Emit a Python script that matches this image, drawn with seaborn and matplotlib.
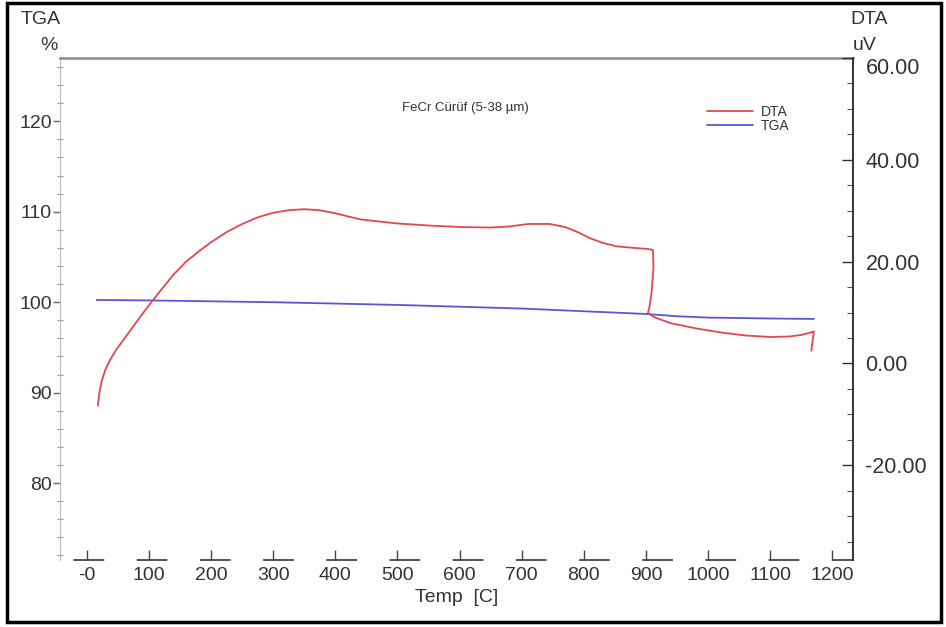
import matplotlib
matplotlib.use("Agg")
import matplotlib.pyplot as plt
import seaborn as sns
import pandas as pd
from matplotlib.patches import Rectangle
from matplotlib.ticker import MultipleLocator, FixedLocator
from matplotlib import font_manager

# ---------------- data ----------------
tga_temp = [16, 100, 200, 300, 400, 500, 600, 700, 800, 900, 950, 1000, 1100, 1170]
tga_pct = [100.25, 100.2, 100.1, 100.0, 99.85, 99.7, 99.5, 99.3, 99.0, 98.7, 98.45, 98.3, 98.2, 98.15]

dta_temp = [18, 20, 24, 30, 38, 48, 60, 75, 90, 105, 120, 140, 160, 180, 200, 225, 250,
            275, 300, 325, 350, 375, 400, 440, 500, 550, 600, 650, 680, 710, 745, 770,
            790, 810, 830, 853, 880, 902, 911, 912, 909, 905, 903, 915, 940, 980, 1020,
            1060, 1100, 1130, 1150, 1165, 1170, 1168, 1166]
dta_uv = [-8.3, -6.0, -3.5, -1.2, 0.8, 2.8, 4.8, 7.3, 9.8, 12.2, 14.5, 17.5, 20.0, 22.0,
          23.8, 25.8, 27.4, 28.7, 29.6, 30.1, 30.3, 30.1, 29.5, 28.3, 27.5, 27.1, 26.8,
          26.7, 26.9, 27.4, 27.4, 26.8, 25.8, 24.6, 23.7, 23.0, 22.7, 22.5, 22.3, 19.0,
          14.0, 10.8, 9.9, 9.0, 7.9, 6.9, 6.1, 5.5, 5.2, 5.3, 5.6, 6.1, 6.3, 4.5, 2.5]

x_ticks = [0, 100, 200, 300, 400, 500, 600, 700, 800, 900, 1000, 1100, 1200]
x_tick_labels = ["-0", "100", "200", "300", "400", "500", "600", "700", "800",
                 "900", "1000", "1100", "1200"]
left_ticks = [80, 90, 100, 110, 120]
left_tick_labels = ["80", "90", "100", "110", "120"]
right_ticks = [-20, 0, 20, 40, 60]
right_tick_labels = ["-20.00", "0.00", "20.00", "40.00", "60.00"]

title_text = "FeCr Cürüf (5-38 µm)"
series_names = ["DTA", "TGA"]

# ---------------- style ----------------
sns.set_style("white")
names = {f.name for f in font_manager.fontManager.ttflist}
base = "Liberation Sans" if "Liberation Sans" in names else "DejaVu Sans"
narrow = "Liberation Sans Narrow" if "Liberation Sans Narrow" in names else base
plt.rcParams["font.family"] = [base, "DejaVu Sans"]

red = "#e2474f"
blue = "#5858d4"
txt = "#333333"

W, H = 946, 627
fig = plt.figure(figsize=(W / 100, H / 100), dpi=100)
fig.patch.set_facecolor("white")
L, R, T, B = 60, 853, 58, 560
ax = fig.add_axes([L / W, 1 - B / H, (R - L) / W, (B - T) / H])
ax2 = ax.twinx()

tga_df = pd.DataFrame({"Temp": tga_temp, "TGA": tga_pct})
dta_df = pd.DataFrame({"Temp": dta_temp, "DTA": dta_uv})

sns.lineplot(data=tga_df, x="Temp", y="TGA", ax=ax, color=blue, linewidth=1.3,
             sort=False, estimator=None, legend=False)
sns.lineplot(data=dta_df, x="Temp", y="DTA", ax=ax2, color=red, linewidth=1.3,
             sort=False, estimator=None, legend=False)

ax.set_xlim(-43, 1233)
ax.set_ylim(71.5, 127)
ax2.set_ylim(-38.6, 60)
ax.set_xlabel("")
ax.set_ylabel("")
ax2.set_ylabel("")

# x axis
ax.xaxis.set_major_locator(FixedLocator(x_ticks))
ax.set_xticklabels(x_tick_labels, family=[narrow, "DejaVu Sans"], fontsize=14, color=txt)
ax.tick_params(axis="x", direction="in", length=7, width=1, color="#444444", pad=5,
               bottom=True)

# left axis
ax.yaxis.set_major_locator(FixedLocator(left_ticks))
ax.set_yticklabels(left_tick_labels, fontsize=14, color=txt)
ax.yaxis.set_minor_locator(MultipleLocator(2))
ax.tick_params(axis="y", which="major", direction="out", length=5, width=1,
               color="#666666", pad=1, left=True)
ax.tick_params(axis="y", which="minor", direction="inout", length=4, width=0.8,
               color="#999999", left=True)

# right axis
ax2.yaxis.set_major_locator(FixedLocator(right_ticks))
ax2.set_yticklabels(right_tick_labels, fontsize=15.5, color=txt)
ax2.yaxis.set_minor_locator(MultipleLocator(5))
ax2.tick_params(axis="y", which="major", direction="in", length=8, width=1,
                color="#333333", pad=9, right=True)
ax2.tick_params(axis="y", which="minor", direction="in", length=4, width=0.8,
                color="#555555", right=True)
for lab in ax2.get_yticklabels():
    if lab.get_text() == "60.00":
        lab.set_va("top")

# spines
for s in ["left", "top", "right", "bottom"]:
    ax2.spines[s].set_visible(False)
ax2.spines["right"].set_visible(True)
ax2.spines["right"].set_color("#333333")
ax2.spines["right"].set_linewidth(1.4)
ax.spines["right"].set_visible(False)
ax.spines["top"].set_color("#8a8a8a")
ax.spines["top"].set_linewidth(1.8)
ax.spines["left"].set_color("#bbbbbb")
ax.spines["left"].set_linewidth(0.8)
ax.spines["bottom"].set_color("#444444")
ax.spines["bottom"].set_linewidth(1.3)
ax.spines["bottom"].set_linestyle((-8, (16, 19)))

# title & legend
ax2.text(0.511, 0.9, title_text, transform=ax2.transAxes, ha="center", va="center",
         fontsize=9.5, color=txt)
handles = [ax2.get_lines()[0], ax.get_lines()[0]]
leg = ax2.legend(handles, series_names, loc="upper left",
                 bbox_to_anchor=((707 - L) / (R - L), (B - 105) / (B - T)),
                 frameon=False, fontsize=10, handlelength=3.3, handletextpad=0.6,
                 labelspacing=0.0, borderpad=0, borderaxespad=0)
for t in leg.get_texts():
    t.set_color(txt)

# axis titles
fig.text(41 / W, 1 - 19 / H, "TGA", ha="center", va="center", fontsize=14, color=txt)
fig.text(49 / W, 1 - 45 / H, "%", ha="center", va="center", fontsize=14, color=txt)
fig.text(850 / W, 1 - 19 / H, "DTA", ha="left", va="center", fontsize=14, color=txt)
fig.text(853 / W, 1 - 45 / H, "uV", ha="left", va="center", fontsize=14, color=txt)
fig.text(457 / W, 1 - 598 / H, "Temp  [C]", ha="center", va="center", fontsize=14,
         color=txt)

# outer frame
fig.patches.append(Rectangle((7 / W, 1 - 622 / H), (941 - 7) / W, (622 - 3) / H,
                             transform=fig.transFigure, fill=False, edgecolor="black",
                             linewidth=2.5))

fig.savefig("out.png", dpi=100)
